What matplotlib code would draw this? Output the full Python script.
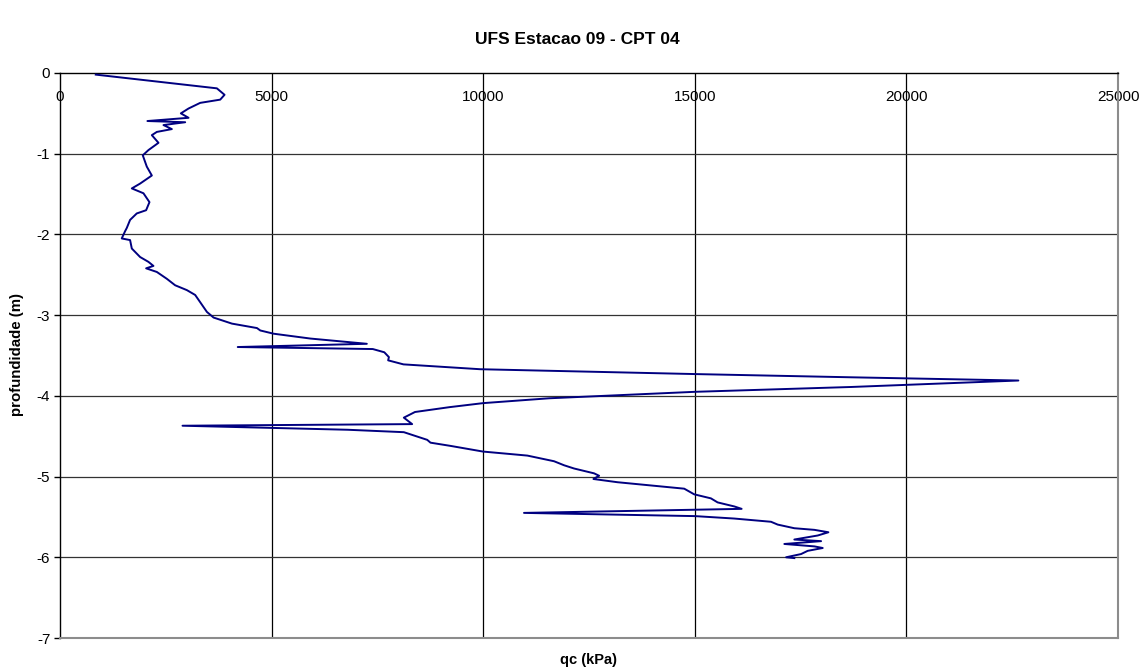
import matplotlib
matplotlib.use('Agg')
import matplotlib.pyplot as plt

plt.rcParams['font.family'] = ['Liberation Sans', 'DejaVu Sans']
plt.rcParams['axes.unicode_minus'] = False

title = 'UFS Estacao 09 - CPT 04'
xlabel = 'qc (kPa)'
ylabel = 'profundidade (m)'

# cone resistance profile, qc (kPa) against depth (m)
qc_kpa = [845, 3707, 3888, 3786, 3313, 3037, 2856, 3037, 2066, 2958,
          2445, 2643, 2288, 2170, 2327, 2090, 1956, 2051, 2170, 1893,
          1697, 1972, 2114, 2035, 1814, 1656, 1578, 1538, 1459, 1656,
          1697, 1893, 2090, 2208, 2035, 2288, 2525, 2721, 2998, 3194,
          3313, 3471, 3629, 4063, 4654, 4733, 5048, 5916, 7250, 4200,
          7391, 7663, 7772, 7754, 8116, 9928, 15000, 18696, 22646, 18696,
          15000, 11558, 10000, 9203, 8388, 8125, 8321, 2895, 6800, 8125,
          8677, 8755, 9229, 9993, 11043, 11674, 11911, 12147, 12620, 12739,
          12605, 13173, 14750, 14986, 15381, 15539, 15933, 16107, 10964, 15009,
          15933, 16801, 16959, 17352, 17825, 18157, 17905, 17352, 17984, 17116,
          17825, 18023, 17668, 17511, 17156, 17352]
depth_m = [-0.02, -0.19, -0.27, -0.33, -0.37, -0.44, -0.50, -0.555, -0.595, -0.61,
           -0.645, -0.695, -0.73, -0.77, -0.865, -0.955, -1.02, -1.16, -1.27, -1.37,
           -1.43, -1.49, -1.60, -1.70, -1.74, -1.82, -1.92, -1.96, -2.05, -2.07,
           -2.175, -2.28, -2.34, -2.39, -2.42, -2.465, -2.55, -2.63, -2.69, -2.75,
           -2.84, -2.96, -3.03, -3.105, -3.16, -3.19, -3.23, -3.29, -3.355, -3.395,
           -3.42, -3.46, -3.52, -3.56, -3.61, -3.67, -3.73, -3.77, -3.81, -3.89,
           -3.95, -4.03, -4.09, -4.14, -4.20, -4.27, -4.35, -4.37, -4.42, -4.45,
           -4.545, -4.58, -4.62, -4.69, -4.74, -4.81, -4.86, -4.90, -4.96, -4.99,
           -5.03, -5.07, -5.15, -5.22, -5.27, -5.32, -5.37, -5.40, -5.45, -5.49,
           -5.52, -5.56, -5.595, -5.64, -5.66, -5.69, -5.73, -5.78, -5.80, -5.835,
           -5.865, -5.885, -5.92, -5.96, -6.00, -6.01]

x_ticks = [0, 5000, 10000, 15000, 20000, 25000]
y_ticks = [0, -1, -2, -3, -4, -5, -6, -7]

fig = plt.figure(figsize=(11.41, 6.72), dpi=100)
ax = fig.add_axes([60 / 1141, 1 - 638 / 672, (1118 - 60) / 1141, (638 - 73) / 672])

ax.plot(qc_kpa, depth_m, color='#000080', lw=1.4, zorder=3)

ax.set_xlim(0, 25000)
ax.set_ylim(-7, 0)
ax.set_xticks(x_ticks)
ax.set_yticks(y_ticks)

# grid lines in black, plot border in grey
for x in x_ticks[1:-1]:
    ax.axvline(x, color='black', lw=0.9, zorder=1)
for y in y_ticks[1:-1]:
    ax.axhline(y, color='#333333', lw=0.9, zorder=1)

ax.spines['top'].set_color('black')
ax.spines['top'].set_linewidth(1.0)
ax.spines['left'].set_color('black')
ax.spines['left'].set_linewidth(1.0)
ax.spines['right'].set_color('#8c8c8c')
ax.spines['right'].set_linewidth(1.5)
ax.spines['bottom'].set_color('#8c8c8c')
ax.spines['bottom'].set_linewidth(1.5)

# x labels sit just under the top axis line
ax.xaxis.set_ticks_position('top')
ax.tick_params(axis='x', length=0, pad=-22, labelsize=11)
ax.tick_params(axis='y', length=4, width=1, pad=3, labelsize=11, direction='out')

fig.text(577 / 1141, 1 - 39 / 672, title, ha='center', va='center',
         fontsize=12.5, fontweight='bold')
fig.text(589 / 1141, 1 - 660 / 672, xlabel, ha='center', va='center',
         fontsize=10.5, fontweight='bold')
fig.text(17 / 1141, 1 - 355 / 672, ylabel, ha='center', va='center',
         rotation=90, fontsize=10.8, fontweight='bold')

fig.savefig('out.png', dpi=100, facecolor='white')
